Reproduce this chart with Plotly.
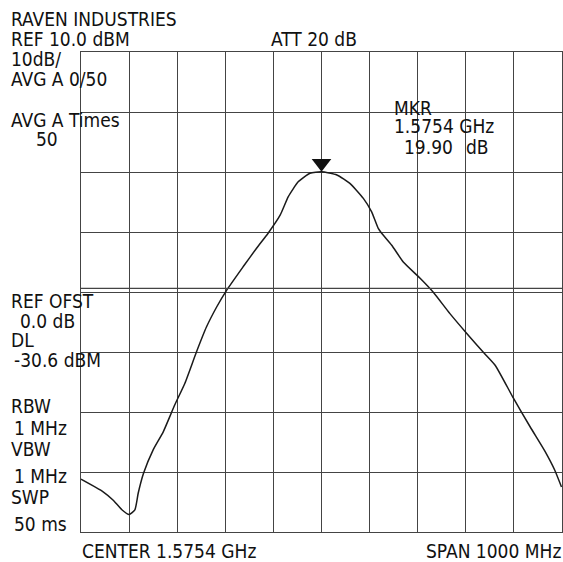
import plotly.graph_objects as go

# Frequency offset from center (MHz) and level (dBm) of the traced spectrum
freq_mhz = [-500, -454, -433, -415, -400, -388, -381, -370, -350, -329, -305, -284,
            -260, -239, -218, -198, -163, -135, -111, -86, -69, -48, -24, 0,
            32, 59, 87, 104, 118, 125, 146, 170, 205, 232, 267, 302, 336, 361,
            399, 434, 465, 485, 499]
level_dbm = [-61.2, -63.3, -64.7, -66.3, -67.1, -66.3, -63.5, -60.2, -56.3, -53.3, -48.8, -45.2,
             -40.0, -35.8, -32.5, -29.8, -25.8, -22.7, -20.2, -17.2, -14.1, -11.6, -10.2, -9.95,
             -10.5, -11.9, -14.4, -16.6, -19.4, -20.2, -22.2, -25.0, -27.7, -30.0, -33.6, -36.9,
             -40.0, -42.2, -47.7, -52.5, -56.6, -59.7, -62.5]

ref_level = 10.0
db_per_div = 10
n_ydiv = 8
span_mhz = 1000
n_xdiv = 10
display_line_dbm = -29.4
marker_freq = 0

left_texts = [
    ("RAVEN INDUSTRIES", 10, 26),
    ("REF 10.0 dBM", 10, 46),
    ("10dB/", 10, 66),
    ("AVG A 0/50", 10, 86),
    ("AVG A Times", 10, 127),
    ("50", 35, 146),
    ("REF OFST", 10, 308),
    ("0.0 dB", 19, 328),
    ("DL", 10, 347),
    ("-30.6 dBM", 13, 367),
    ("RBW", 10, 413),
    ("1 MHz", 13, 435),
    ("VBW", 10, 456),
    ("1 MHz", 13, 483),
    ("SWP", 10, 504),
    ("50 ms", 13, 531),
    ("ATT 20 dB", 270, 46),
    ("MKR", 393, 115),
    ("1.5754 GHz", 393, 133),
    ("19.90", 403, 154),
    ("dB", 465, 154),
    ("CENTER 1.5754 GHz", 81, 558),
]
right_texts = [("SPAN 1000 MHz", 562, 558)]

W, H = 563, 562
L, R, T, B = 81, 1, 52, 30
pw, ph = W - L - R, H - T - B
FONT = "DejaVu Sans Condensed, Liberation Sans Narrow, sans-serif"
FS = 19

fig = go.Figure()
fig.add_trace(go.Scatter(x=freq_mhz, y=level_dbm, mode="lines",
                         line=dict(color="#1a1a1a", width=1.5, shape="spline", smoothing=0.5),
                         hoverinfo="skip"))
peak = max(level_dbm)
fig.add_trace(go.Scatter(x=[marker_freq], y=[peak + 1.4], mode="markers",
                         marker=dict(symbol="triangle-down", size=17, color="#111"),
                         hoverinfo="skip"))
fig.add_shape(type="line", xref="paper", x0=0, x1=1, y0=display_line_dbm, y1=display_line_dbm,
              line=dict(color="#444", width=1.2))

anns = []
def ann(text, px, base, anchor):
    cy = base - 0.36 * FS
    anns.append(dict(text=text, xref="paper", yref="paper",
                     x=(px - L) / pw, y=(H - B - cy) / ph,
                     xanchor=anchor, yanchor="middle", showarrow=False,
                     font=dict(family=FONT, size=FS, color="#111"), borderpad=0))
for t, px, b in left_texts:
    ann(t, px, b, "left")
for t, px, b in right_texts:
    ann(t, px, b, "right")

half = span_mhz / 2
fig.update_layout(
    width=W, height=H, margin=dict(l=L, r=R, t=T, b=B),
    paper_bgcolor="white", plot_bgcolor="white", showlegend=False,
    annotations=anns,
    xaxis=dict(range=[-half, half], dtick=span_mhz / n_xdiv, showticklabels=False, ticks="",
               showgrid=True, gridcolor="#444", gridwidth=1.2, zeroline=False,
               showline=True, linecolor="#444", linewidth=1.2, mirror=True, fixedrange=True),
    yaxis=dict(range=[ref_level - db_per_div * n_ydiv, ref_level], dtick=db_per_div,
               tick0=ref_level, showticklabels=False, ticks="",
               showgrid=True, gridcolor="#444", gridwidth=1.2, zeroline=False,
               showline=True, linecolor="#444", linewidth=1.2, mirror=True, fixedrange=True),
)
fig.write_html("out.html", config={"displayModeBar": False},
               post_script="document.body.style.margin='0';document.body.style.overflow='hidden';")
